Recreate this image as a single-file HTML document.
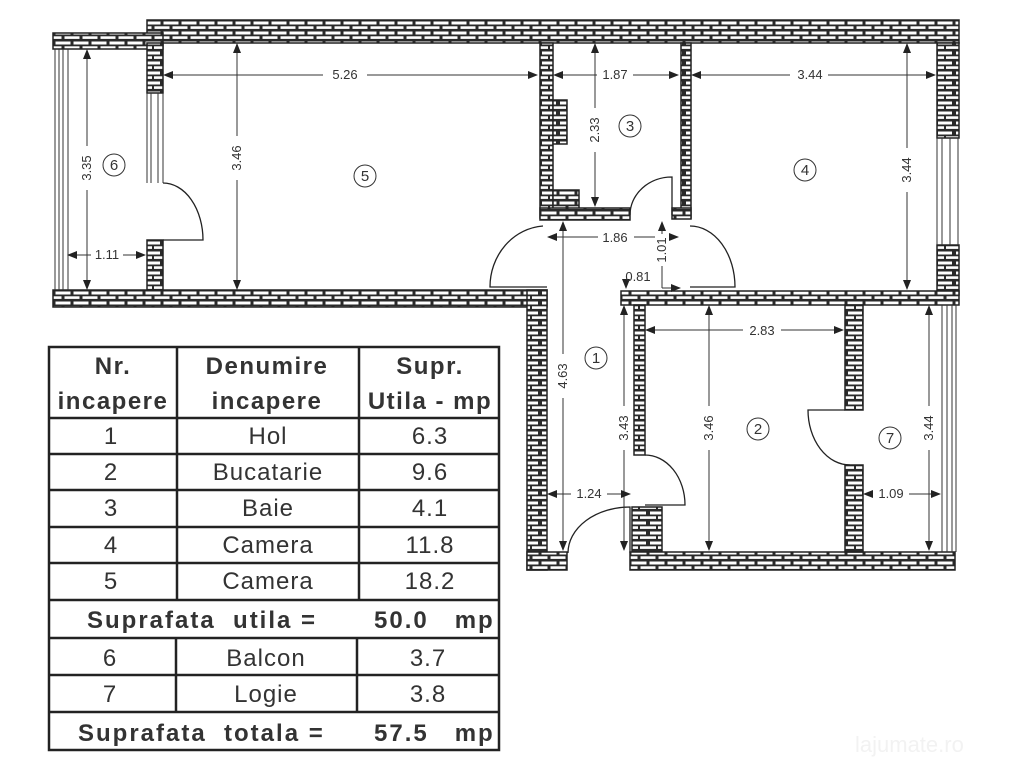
<!DOCTYPE html>
<html><head><meta charset="utf-8"><style>
html,body{margin:0;padding:0;background:#fff;}
svg{display:block;}
text{font-family:"Liberation Sans",Arial,sans-serif;fill:#333;}
</style></head><body>
<svg width="1019" height="768" viewBox="0 0 1019 768" xmlns="http://www.w3.org/2000/svg">
<defs>
<pattern id="bh" patternUnits="userSpaceOnUse" width="18" height="10">
<rect width="18" height="10" fill="#2a2a2a"/>
<rect x="1.5" y="1.5" width="15" height="3" fill="#fff"/>
<rect x="-7.5" y="6.3" width="15" height="2.6" fill="#fff"/>
<rect x="10.5" y="6.3" width="15" height="2.6" fill="#fff"/>
</pattern>
<pattern id="bv" patternUnits="userSpaceOnUse" width="18" height="10">
<rect width="18" height="10" fill="#2a2a2a"/>
<rect x="2" y="1.5" width="14" height="3" fill="#fff"/>
<rect x="-6" y="6.3" width="14" height="2.6" fill="#fff"/>
<rect x="10" y="6.3" width="14" height="2.6" fill="#fff"/>
</pattern>
<marker id="a" markerWidth="10" markerHeight="10" refX="9" refY="5" orient="auto-start-reverse" markerUnits="userSpaceOnUse">
<path d="M0,1 L10,5 L0,9 z" fill="#222"/>
</marker>
</defs>

<g stroke="#222" stroke-width="1.5">
<rect x="147" y="20" width="812" height="23" fill="url(#bh)"/>
<rect x="53" y="33" width="110" height="16" fill="url(#bh)"/>
<rect x="147" y="43" width="16" height="50" fill="url(#bv)"/>
<rect x="147" y="240" width="16" height="52" fill="url(#bv)"/>
<rect x="53" y="290" width="494" height="17" fill="url(#bh)"/>
<rect x="527" y="290" width="20" height="280" fill="url(#bv)"/>
<rect x="527" y="552" width="40" height="18" fill="url(#bh)"/>
<rect x="540" y="43" width="13" height="175" fill="url(#bv)"/>
<rect x="553" y="100" width="14" height="44" fill="url(#bv)"/>
<rect x="553" y="190" width="26" height="19" fill="url(#bh)"/>
<rect x="540" y="208" width="90" height="12" fill="url(#bh)"/>
<rect x="681" y="43" width="10" height="175" fill="url(#bv)"/>
<rect x="672" y="208" width="19" height="11" fill="url(#bh)"/>
<rect x="937" y="43" width="22" height="95" fill="url(#bv)"/>
<rect x="937" y="245" width="22" height="50" fill="url(#bv)"/>
<rect x="621" y="291" width="338" height="14" fill="url(#bh)"/>
<rect x="634" y="305" width="11" height="150" fill="url(#bv)"/>
<rect x="632" y="507" width="30" height="46" fill="url(#bv)"/>
<rect x="630" y="552" width="325" height="18" fill="url(#bh)"/>
<rect x="845" y="305" width="18" height="105" fill="url(#bv)"/>
<rect x="845" y="465" width="18" height="87" fill="url(#bv)"/>
</g>

<g stroke="#333" stroke-width="1" fill="none">
<line x1="55" y1="49" x2="55" y2="290"/><line x1="59" y1="49" x2="59" y2="290"/><line x1="63" y1="49" x2="63" y2="290"/><line x1="68" y1="49" x2="68" y2="290"/>
<line x1="147" y1="93" x2="147" y2="183"/><line x1="151" y1="93" x2="151" y2="183"/><line x1="158" y1="93" x2="158" y2="183"/><line x1="163" y1="93" x2="163" y2="183"/>
<line x1="937" y1="138" x2="937" y2="245"/><line x1="942" y1="138" x2="942" y2="245"/><line x1="950" y1="138" x2="950" y2="245"/><line x1="958" y1="138" x2="958" y2="245"/>
<line x1="942" y1="305" x2="942" y2="552"/><line x1="947" y1="305" x2="947" y2="552"/><line x1="952" y1="305" x2="952" y2="552"/><line x1="956" y1="305" x2="956" y2="552"/>
</g>

<g stroke="#222" stroke-width="1.3" fill="none">
<path d="M163,183 A40,57 0 0 1 203,240 L163,240"/>
<path d="M543,226 A57,61 0 0 0 490,287 L547,287"/>
<path d="M690,226 A45,61 0 0 1 735,287 L690,287"/>
<path d="M630,215 A42,38 0 0 1 672,177 L672,215"/>
<path d="M645,455 A40,50 0 0 1 685,505 L645,505"/>
<path d="M568,553 A62,46 0 0 1 630,507 L630,553"/>
<path d="M845,410 L808,410 A42,55 0 0 0 850,465"/>
</g>

<g stroke="#333" stroke-width="1" fill="none" marker-start="url(#a)" marker-end="url(#a)">
<line x1="164" y1="75" x2="537" y2="75"/>
<line x1="554" y1="75" x2="678" y2="75"/>
<line x1="692" y1="75" x2="935" y2="75"/>
<line x1="237" y1="44" x2="237" y2="289"/>
<line x1="87" y1="50" x2="87" y2="289"/>
<line x1="68" y1="255" x2="145" y2="255"/>
<line x1="595" y1="44" x2="595" y2="206"/>
<line x1="548" y1="237" x2="678" y2="237"/>
<line x1="907" y1="44" x2="907" y2="289"/>
<line x1="563" y1="222" x2="563" y2="550"/>
<line x1="646" y1="330" x2="843" y2="330"/>
<line x1="709" y1="306" x2="709" y2="550"/>
<line x1="624" y1="306" x2="624" y2="550"/>
<line x1="548" y1="494" x2="630" y2="494"/>
<line x1="929" y1="306" x2="929" y2="550"/>
<line x1="864" y1="494" x2="940" y2="494"/>
</g>
<g stroke="#333" stroke-width="1" fill="none">
<line x1="662" y1="222" x2="662" y2="288" marker-start="url(#a)"/>
<line x1="662" y1="288" x2="680" y2="288" marker-end="url(#a)"/>
<line x1="626" y1="288" x2="626" y2="282" marker-start="url(#a)"/>
</g>

<g font-size="13" text-anchor="middle">
<rect x="323" y="67" width="44" height="14" fill="#fff"/><text x="345" y="79">5.26</text>
<rect x="597" y="67" width="36" height="14" fill="#fff"/><text x="615" y="79">1.87</text>
<rect x="790" y="67" width="38" height="14" fill="#fff"/><text x="810" y="79">3.44</text>
<rect x="91" y="248" width="32" height="14" fill="#fff"/><text x="107" y="259">1.11</text>
<rect x="598" y="230" width="36" height="14" fill="#fff"/><text x="615" y="242">1.86</text>
<rect x="743" y="323" width="38" height="14" fill="#fff"/><text x="762" y="335">2.83</text>
<rect x="571" y="487" width="36" height="14" fill="#fff"/><text x="589" y="498">1.24</text>
<rect x="873" y="487" width="36" height="14" fill="#fff"/><text x="891" y="498">1.09</text>
<text x="638" y="281">0.81</text>
</g>
<g font-size="13" text-anchor="middle">
<rect x="230" y="136" width="14" height="44" fill="#fff"/><text transform="translate(241,158) rotate(-90)">3.46</text>
<rect x="80" y="146" width="14" height="44" fill="#fff"/><text transform="translate(91,168) rotate(-90)">3.35</text>
<rect x="588" y="108" width="14" height="44" fill="#fff"/><text transform="translate(599,130) rotate(-90)">2.33</text>
<rect x="900" y="148" width="14" height="44" fill="#fff"/><text transform="translate(911,170) rotate(-90)">3.44</text>
<rect x="655" y="234" width="14" height="32" fill="#fff"/><text transform="translate(666,250) rotate(-90)">1.01</text>
<rect x="556" y="354" width="14" height="44" fill="#fff"/><text transform="translate(567,376) rotate(-90)">4.63</text>
<rect x="617" y="406" width="14" height="44" fill="#fff"/><text transform="translate(628,428) rotate(-90)">3.43</text>
<rect x="702" y="406" width="14" height="44" fill="#fff"/><text transform="translate(713,428) rotate(-90)">3.46</text>
<rect x="922" y="406" width="14" height="44" fill="#fff"/><text transform="translate(933,428) rotate(-90)">3.44</text>
</g>

<g font-size="15" text-anchor="middle">
<circle cx="114" cy="165" r="11" fill="none" stroke="#333"/><text x="114" y="170">6</text>
<circle cx="365" cy="176" r="11" fill="none" stroke="#333"/><text x="365" y="181">5</text>
<circle cx="630" cy="126" r="11" fill="none" stroke="#333"/><text x="630" y="131">3</text>
<circle cx="805" cy="170" r="11" fill="none" stroke="#333"/><text x="805" y="175">4</text>
<circle cx="596" cy="358" r="11" fill="none" stroke="#333"/><text x="596" y="363">1</text>
<circle cx="758" cy="429" r="11" fill="none" stroke="#333"/><text x="758" y="434">2</text>
<circle cx="890" cy="438" r="11" fill="none" stroke="#333"/><text x="890" y="443">7</text>
</g>

<g stroke="#222" stroke-width="2.5" fill="none">
<rect x="49" y="347" width="450" height="403"/>
<line x1="49" y1="418" x2="499" y2="418"/>
<line x1="49" y1="454" x2="499" y2="454"/>
<line x1="49" y1="490" x2="499" y2="490"/>
<line x1="49" y1="527" x2="499" y2="527"/>
<line x1="49" y1="563" x2="499" y2="563"/>
<line x1="49" y1="600" x2="499" y2="600"/>
<line x1="49" y1="638" x2="499" y2="638"/>
<line x1="49" y1="675" x2="499" y2="675"/>
<line x1="49" y1="712" x2="499" y2="712"/>
<line x1="177" y1="347" x2="177" y2="600"/>
<line x1="359" y1="347" x2="359" y2="600"/>
<line x1="176" y1="638" x2="176" y2="712"/>
<line x1="357" y1="638" x2="357" y2="712"/>
</g>
<g font-size="24" text-anchor="middle" font-weight="bold" style="fill:#333" letter-spacing="1.5">
<text x="113" y="374">Nr.</text><text x="113" y="409">incapere</text>
<text x="267" y="374">Denumire</text><text x="267" y="409">incapere</text>
<text x="430" y="374">Supr.</text><text x="430" y="409">Utila - mp</text>
</g>
<g font-size="24" text-anchor="middle" letter-spacing="1">
<text x="111" y="444">1</text><text x="268" y="444">Hol</text><text x="430" y="444">6.3</text>
<text x="111" y="480">2</text><text x="268" y="480">Bucatarie</text><text x="430" y="480">9.6</text>
<text x="111" y="516">3</text><text x="268" y="516">Baie</text><text x="430" y="516">4.1</text>
<text x="111" y="553">4</text><text x="268" y="553">Camera</text><text x="430" y="553">11.8</text>
<text x="111" y="589">5</text><text x="268" y="589">Camera</text><text x="430" y="589">18.2</text>
<text x="110" y="666">6</text><text x="266" y="666">Balcon</text><text x="428" y="666">3.7</text>
<text x="110" y="702">7</text><text x="266" y="702">Logie</text><text x="428" y="702">3.8</text>
</g>
<g font-size="24" font-weight="bold" style="fill:#333" letter-spacing="2">
<text x="87" y="628" xml:space="preserve">Suprafata  utila =</text>
<text x="374" y="628" xml:space="preserve">50.0   mp</text>
<text x="78" y="741" xml:space="preserve">Suprafata  totala =</text>
<text x="374" y="741" xml:space="preserve">57.5   mp</text>
</g>

<text x="855" y="752" font-size="22" style="fill:#f2f2f2">lajumate.ro</text>
</svg>
</body></html>
